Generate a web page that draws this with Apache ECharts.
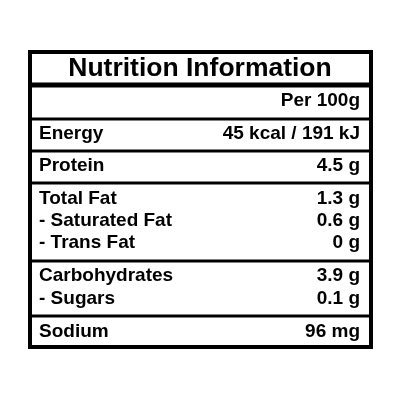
<!DOCTYPE html>
<html>
<head>
<meta charset="utf-8">
<script src="https://cdn.jsdelivr.net/npm/echarts@6/dist/echarts.min.js"></script>
<style>html,body{margin:0;background:#fff}#chart{width:400px;height:400px}</style>
</head>
<body>
<div id="chart"></div>
<script>
// table content
const title = 'Nutrition Information';
const labels = ['', 'Energy', 'Protein', 'Total Fat', '- Saturated Fat', '- Trans Fat', 'Carbohydrates', '- Sugars', 'Sodium'];
const values = ['Per 100g', '45 kcal / 191 kJ', '4.5 g', '1.3 g', '0.6 g', '0 g', '3.9 g', '0.1 g', '96 mg'];
const rowY = [101, 134, 166, 199, 221, 243, 276, 299, 332];
const dividers = [119, 151, 183, 261, 316];

const font = '"Liberation Sans", Arial, sans-serif';
const els = [];
els.push({ type: 'rect', shape: { x: 30, y: 52, width: 341, height: 295 }, style: { fill: '#fff', stroke: '#000', lineWidth: 4 } });
els.push({ type: 'line', shape: { x1: 30, y1: 85, x2: 371, y2: 85 }, style: { stroke: '#000', lineWidth: 5 } });
dividers.forEach(y => els.push({ type: 'line', shape: { x1: 30, y1: y, x2: 371, y2: y }, style: { stroke: '#000', lineWidth: 3 } }));
els.push({ type: 'text', x: 200, y: 69, style: { text: title, font: 'bold 26.5px ' + font, fill: '#000', align: 'center', verticalAlign: 'middle' } });
labels.forEach((l, i) => {
    els.push({ type: 'text', x: 39, y: rowY[i], style: { text: l, font: 'bold 19px ' + font, fill: '#000', align: 'left', verticalAlign: 'middle' } });
    els.push({ type: 'text', x: 360, y: rowY[i], style: { text: values[i], font: 'bold 19px ' + font, fill: '#000', align: 'right', verticalAlign: 'middle' } });
});

const chart = echarts.init(document.getElementById('chart'));
chart.setOption({ backgroundColor: '#fff', animation: false, graphic: els });
</script>
</body>
</html>
